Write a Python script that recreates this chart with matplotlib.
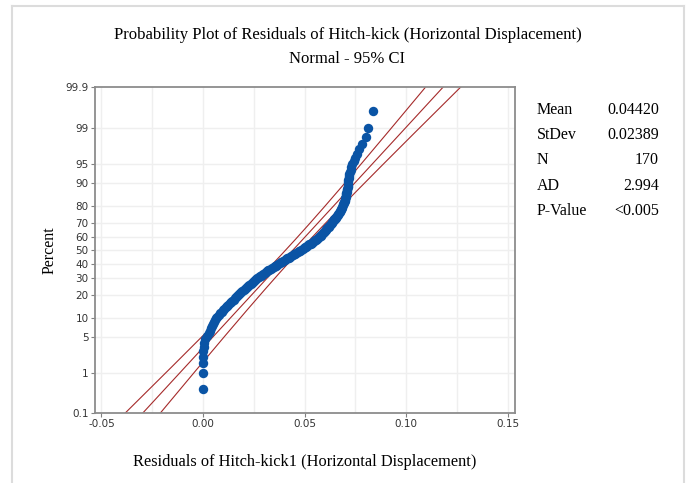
import numpy as np
import matplotlib
matplotlib.use("Agg")
import matplotlib.pyplot as plt
from statistics import NormalDist

# sorted residuals (170 points)
resid = [
    0.0000, 0.0000, 0.0000, 0.0001, 0.0002, 0.0004, 0.0005, 0.0012, 0.0019, 0.0027,
    0.0034, 0.0041, 0.0046, 0.0051, 0.0056, 0.0061, 0.0065, 0.0071, 0.0078, 0.0085,
    0.0091, 0.0097, 0.0104, 0.0111, 0.0118, 0.0124, 0.0131, 0.0137, 0.0144, 0.0150,
    0.0155, 0.0161, 0.0167, 0.0173, 0.0178, 0.0184, 0.0189, 0.0194, 0.0200, 0.0206,
    0.0212, 0.0218, 0.0223, 0.0228, 0.0234, 0.0239, 0.0245, 0.0250, 0.0256, 0.0263,
    0.0268, 0.0274, 0.0280, 0.0286, 0.0291, 0.0297, 0.0303, 0.0308, 0.0314, 0.0321,
    0.0327, 0.0334, 0.0340, 0.0347, 0.0352, 0.0359, 0.0365, 0.0371, 0.0377, 0.0383,
    0.0390, 0.0396, 0.0402, 0.0409, 0.0415, 0.0422, 0.0428, 0.0435, 0.0441, 0.0447,
    0.0453, 0.0460, 0.0466, 0.0472, 0.0478, 0.0484, 0.0490, 0.0496, 0.0502, 0.0508,
    0.0514, 0.0519, 0.0524, 0.0529, 0.0534, 0.0540, 0.0545, 0.0550, 0.0555, 0.0560,
    0.0566, 0.0571, 0.0576, 0.0580, 0.0583, 0.0587, 0.0590, 0.0593, 0.0597, 0.0600,
    0.0604, 0.0607, 0.0611, 0.0614, 0.0618, 0.0622, 0.0625, 0.0629, 0.0633, 0.0636,
    0.0639, 0.0643, 0.0646, 0.0649, 0.0652, 0.0656, 0.0659, 0.0662, 0.0666, 0.0669,
    0.0673, 0.0676, 0.0678, 0.0680, 0.0683, 0.0685, 0.0687, 0.0690, 0.0692, 0.0695,
    0.0697, 0.0700, 0.0701, 0.0702, 0.0704, 0.0705, 0.0706, 0.0708, 0.0709, 0.0711,
    0.0712, 0.0713, 0.0714, 0.0714, 0.0715, 0.0716, 0.0716, 0.0719, 0.0722, 0.0726,
    0.0729, 0.0733, 0.0741, 0.0749, 0.0758, 0.0768, 0.0780, 0.0801, 0.0813, 0.0836,
]
mean = 0.04420
sd = 0.02389
pct_ticks = [0.1, 1, 5, 10, 20, 30, 40, 50, 60, 70, 80, 90, 95, 99, 99.9]
pct_labels = ['0.1', '1', '5', '10', '20', '30', '40', '50', '60', '70', '80', '90', '95', '99', '99.9']
x_ticks = [-0.05, 0.00, 0.05, 0.10, 0.15]
x_labels = ['-0.05', '0.00', '0.05', '0.10', '0.15']
stat_names = ['Mean', 'StDev', 'N', 'AD', 'P-Value']
stat_vals = ['0.04420', '0.02389', '170', '2.994', '<0.005']

nd = NormalDist()
n = len(resid)
# median ranks
z_pts = np.array([nd.inv_cdf((i - 0.3) / (n + 0.4)) for i in range(1, n + 1)])

fig = plt.figure(figsize=(6.88, 4.83), dpi=100)
ax = fig.add_axes([0.138, 0.145, 0.611, 0.674])

zz = np.linspace(-3.2, 3.2, 200)
fit = mean + sd * zz
half = 1.96 * sd * np.sqrt((1 + zz ** 2 / 2) / n)
red = '#a52a2a'
ax.plot(fit, zz, color=red, lw=0.8, zorder=2)
ax.plot(fit - half, zz, color=red, lw=0.8, zorder=2)
ax.plot(fit + half, zz, color=red, lw=0.8, zorder=2)

ax.scatter(resid, z_pts, s=46, color='#0a54a5', zorder=3, linewidths=0)

zt = [nd.inv_cdf(p / 100) for p in pct_ticks]
ax.set_yticks(zt)
ax.set_yticklabels(pct_labels)
ax.set_ylim(zt[0], zt[-1])
ax.set_xticks(x_ticks)
ax.set_xticklabels(x_labels)
ax.set_xticks(np.arange(-0.05, 0.151, 0.025), minor=True)
ax.set_xlim(-0.0532, 0.1537)

for z in zt[1:-1]:
    ax.axhline(z, color='#efefef', lw=1, zorder=0)
for xv in np.arange(-0.05, 0.151, 0.025):
    ax.axvline(xv, color='#efefef', lw=1, zorder=0)

ax.tick_params(axis='both', which='major', length=3, color='#808080', labelsize=7.5,
               labelcolor='#333333', pad=1.5)
ax.tick_params(axis='x', which='minor', length=0)
for lbl in ax.get_xticklabels() + ax.get_yticklabels():
    lbl.set_family('DejaVu Sans')
for s in ax.spines.values():
    s.set_color('#8c8c8c')
    s.set_linewidth(1.3)

serif = 'Liberation Serif'
ax.set_ylabel('Percent', family=serif, fontsize=11.5, labelpad=6)
ax.set_xlabel('Residuals of Hitch-kick1 (Horizontal Displacement)', family=serif,
              fontsize=11.8, labelpad=18)

fig.text(0.505, 0.928, 'Probability Plot of Residuals of Hitch-kick (Horizontal Displacement)',
         family=serif, fontsize=12, ha='center', va='center')
fig.text(0.505, 0.877, 'Normal - 95% CI', family=serif, fontsize=12,
         ha='center', va='center')

for k, (nm, v) in enumerate(zip(stat_names, stat_vals)):
    y = 1 - (110 + k * 25.2) / 483
    fig.text(537 / 688, y, nm, family=serif, fontsize=11.5, ha='left', va='center')
    fig.text(659 / 688, y, v, family=serif, fontsize=11.5, ha='right', va='center')

# light frame around the picture
frame = '#dcdcdc'
fig.add_artist(plt.Line2D([12 / 688, 684 / 688], [1 - 6 / 483, 1 - 6 / 483], color=frame, lw=1.5))
fig.add_artist(plt.Line2D([12 / 688, 12 / 688], [0, 1 - 6 / 483], color=frame, lw=1.5))
fig.add_artist(plt.Line2D([684 / 688, 684 / 688], [0, 1 - 6 / 483], color=frame, lw=1.5))

fig.savefig('out.png', dpi=100)
